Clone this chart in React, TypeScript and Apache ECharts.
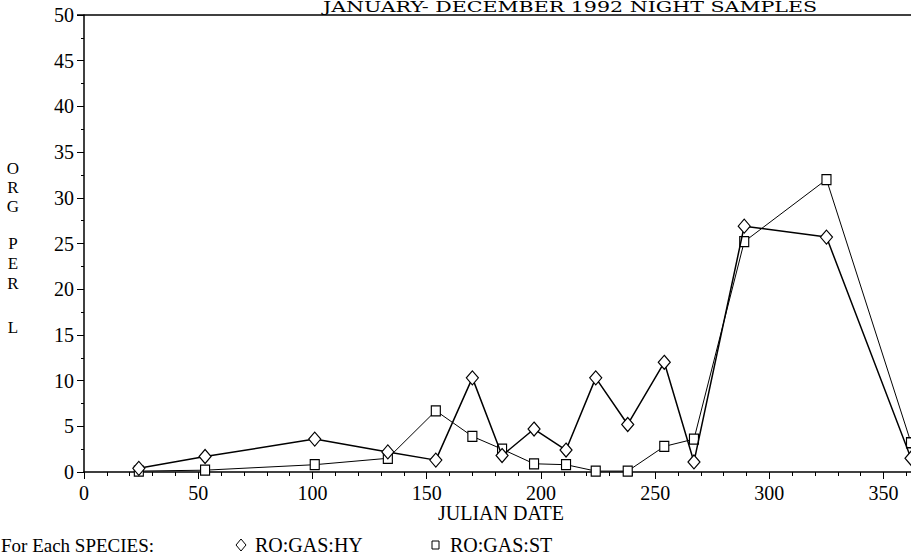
import React, { useEffect, useRef } from "react";
import * as echarts from "echarts";

const julianDays = [24, 53, 101, 133, 154, 170, 183, 197, 211, 224, 238, 254, 267, 289, 325, 362];
const gasHY = [0.4, 1.7, 3.6, 2.2, 1.3, 10.3, 1.8, 4.7, 2.4, 10.3, 5.2, 12.0, 1.1, 26.9, 25.7, 1.5];
const gasST = [0.1, 0.2, 0.8, 1.5, 6.7, 3.9, 2.5, 0.9, 0.8, 0.1, 0.1, 2.8, 3.6, 25.2, 32.0, 3.2];
const seriesNames = ["RO:GAS:HY", "RO:GAS:ST"];
const titleText = "JANUARY- DECEMBER 1992 NIGHT SAMPLES";
const yLetters = ["O", "R", "G", "P", "E", "R", "L"];
const yLetterPos = [168, 187, 206, 243, 263, 283, 327];

const FONT = "'Liberation Serif', 'DejaVu Serif', serif";

export default function App() {
  const ref = useRef<HTMLDivElement>(null);
  useEffect(() => {
    if (!ref.current) return;
    const chart = echarts.init(ref.current, null, { renderer: "svg" });
    const pairs = (ys: number[]) => julianDays.map((x, i) => [x, ys[i]]);
    const graphics: any[] = [
      {
        type: "text",
        x: 570,
        y: 0,
        scaleX: 1.47,
        style: {
          text: titleText,
          font: "14px 'DejaVu Serif', serif",
          fill: "#000",
          align: "center",
          verticalAlign: "top",
        },
      },
      {
        type: "line",
        shape: { x1: 77, y1: 15, x2: 911, y2: 15 },
        style: { stroke: "#000", lineWidth: 1.5 },
      },
      {
        type: "text",
        x: 501,
        y: 513,
        style: { text: "JULIAN DATE", font: `20px ${FONT}`, fill: "#000", align: "center", verticalAlign: "middle" },
      },
      {
        type: "text",
        x: 1,
        y: 545,
        style: { text: "For Each SPECIES:", font: `19px ${FONT}`, fill: "#000", verticalAlign: "middle" },
      },
      {
        type: "polygon",
        shape: { points: [[241, 539], [246, 545], [241, 551], [236, 545]] },
        style: { fill: "#fff", stroke: "#000", lineWidth: 1 },
      },
      {
        type: "text",
        x: 255,
        y: 545,
        style: { text: seriesNames[0], font: `20px ${FONT}`, fill: "#000", verticalAlign: "middle" },
      },
      {
        type: "rect",
        shape: { x: 432, y: 541, width: 7, height: 8 },
        style: { fill: "#fff", stroke: "#000", lineWidth: 1 },
      },
      {
        type: "text",
        x: 450,
        y: 545,
        style: { text: seriesNames[1], font: `20px ${FONT}`, fill: "#000", verticalAlign: "middle" },
      },
    ];
    yLetters.forEach((ch, i) => {
      graphics.push({
        type: "text",
        x: 13,
        y: yLetterPos[i],
        style: { text: ch, font: `17px ${FONT}`, fill: "#000", align: "center", verticalAlign: "middle" },
      });
    });

    chart.setOption({
      animation: false,
      backgroundColor: "#fff",
      grid: { left: 84, right: 0, top: 15, bottom: 86, containLabel: false },
      xAxis: {
        type: "value",
        min: 0,
        max: 362,
        interval: 50,
        axisLine: { lineStyle: { color: "#000", width: 1.5 } },
        axisTick: { show: true, length: 7, lineStyle: { color: "#000" } },
        minorTick: { show: true, splitNumber: 5, length: 4, lineStyle: { color: "#000" } },
        splitLine: { show: false },
        axisLabel: {
          color: "#000",
          fontSize: 20,
          fontFamily: FONT,
          margin: 11,
          showMaxLabel: false,
          formatter: (v: number) => (v % 50 === 0 ? String(v) : ""),
        },
      },
      yAxis: {
        type: "value",
        min: 0,
        max: 50,
        interval: 5,
        axisLine: { show: true, lineStyle: { color: "#000", width: 1.5 } },
        axisTick: { show: true, length: 7, lineStyle: { color: "#000" } },
        minorTick: { show: true, splitNumber: 2, length: 3, lineStyle: { color: "#000" } },
        splitLine: { show: false },
        axisLabel: { color: "#000", fontSize: 20, fontFamily: FONT, margin: 10 },
      },
      graphic: graphics,
      series: [
        {
          name: seriesNames[0],
          type: "line",
          data: pairs(gasHY),
          symbol: "diamond",
          symbolSize: [12, 14],
          showAllSymbol: true,
          lineStyle: { color: "#000", width: 1.5 },
          itemStyle: { color: "#fff", borderColor: "#000", borderWidth: 1.2 },
          z: 3,
        },
        {
          name: seriesNames[1],
          type: "line",
          data: pairs(gasST),
          symbol: "rect",
          symbolSize: [9, 10],
          showAllSymbol: true,
          lineStyle: { color: "#000", width: 1 },
          itemStyle: { color: "#fff", borderColor: "#000", borderWidth: 1.2 },
          z: 2,
        },
      ],
    });
    return () => chart.dispose();
  }, []);
  return (
    <div
      ref={ref}
      style={{ position: "fixed", left: 0, top: 0, width: 911, height: 558, background: "#fff" }}
    />
  );
}
